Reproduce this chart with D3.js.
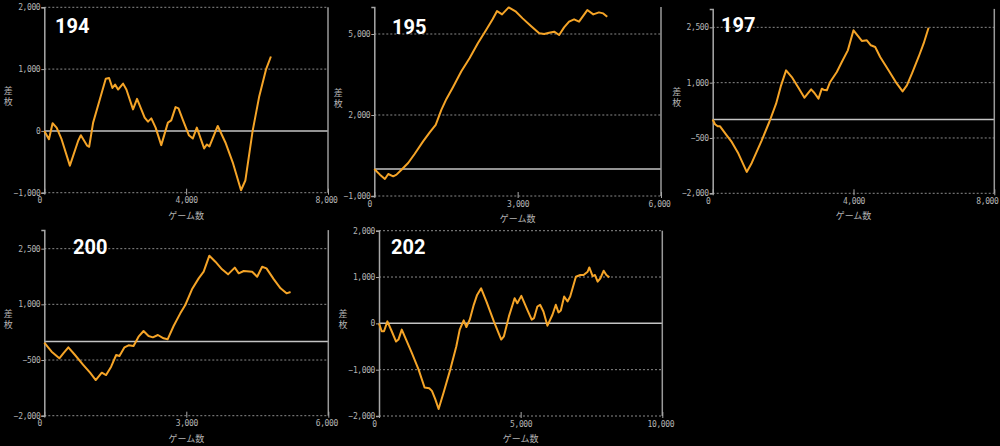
<!DOCTYPE html>
<meta charset="utf-8">
<style>
body{ margin:0; background:#000; }
svg{ display:block; background:#000; }
text{ font-family:"DejaVu Sans Mono", monospace; }
.tick text{ font-size:8px; fill:#b4b4b4; letter-spacing:-0.4px; }
.title{ font-family:Roboto, "DejaVu Sans", sans-serif; font-weight:bold; font-size:20px; fill:#fff; }
.axlabel{ font-family:"Noto Sans CJK JP", sans-serif; font-size:9px; fill:#b4b4b4; }
</style>
<body>
<div id="chart"></div>
<script src="https://cdn.jsdelivr.net/npm/d3@7"></script>
<script>
// 差枚グラフ 5台分

// 194
var games194 = [0,131,234,347,487,721,956,1031,1209,1265,1377,1565,1733,1827,1921,1996,2080,2221,2315,2502,2615,2830,2924,3018,3139,3298,3486,3579,3701,3785,3907,4076,4188,4301,4507,4582,4657,4891,5107,5313,5547,5669,5875,6062,6250,6390];
var diff194 = [0,-134,123,53,-134,-562,-160,-70,-240,-257,134,508,845,856,695,749,669,765,669,348,519,214,150,203,53,-230,134,171,385,364,177,-70,-123,53,-284,-219,-251,80,-187,-508,-960,-803,0,562,990,1204];
// 195
var games195 = [0,118,222,292,396,465,569,708,847,1021,1160,1285,1403,1507,1646,1819,1993,2167,2340,2479,2569,2674,2812,2965,3104,3278,3451,3556,3660,3764,3868,3972,4076,4181,4285,4458,4583,4701,4791,4875];
var diff195 = [0,-209,-369,-185,-271,-209,-25,222,566,1022,1355,1638,2192,2586,3029,3608,4101,4655,5148,5554,5850,5726,5985,5825,5579,5295,5024,5000,5049,5086,4963,5246,5456,5542,5456,5887,5726,5800,5763,5640];
// 197
var games197 = [0,66,142,209,398,540,730,967,1109,1393,1611,1801,1943,2085,2247,2436,2607,2796,2891,3005,3100,3147,3242,3337,3526,3668,3839,4000,4237,4379,4493,4616,4758,4995,5232,5394,5517,5659,5849,5991,6133];
var diff197 = [0,-126,-183,-183,-427,-608,-924,-1421,-1177,-563,-60,431,928,1333,1152,863,592,818,719,566,837,810,792,1018,1289,1560,1876,2419,2130,2149,2013,1968,1697,1335,973,765,928,1244,1696,2057,2490];
// 200
var games200 = [0,155,318,402,508,649,826,967,1087,1214,1306,1412,1518,1588,1694,1779,1885,1991,2097,2202,2294,2400,2520,2605,2732,2873,2979,3120,3261,3367,3487,3614,3755,3882,4024,4108,4214,4391,4497,4602,4694,4850,4991,5118,5203];
var diff200 = [-30,-276,-455,-320,-159,-365,-635,-842,-1039,-842,-905,-680,-365,-392,-159,-105,-123,128,281,146,111,174,84,57,416,757,982,1404,1700,1880,2311,2149,1943,1808,1988,1835,1898,1880,1745,2014,1970,1673,1431,1296,1332];
// 202
var games202 = [0,95,177,296,449,603,686,804,957,1158,1395,1608,1773,1868,1986,2104,2281,2518,2730,2849,2990,3085,3203,3345,3463,3605,3794,4054,4314,4409,4586,4787,4882,5024,5236,5390,5473,5591,5686,5804,5946,6123,6241,6336,6418,6536,6655,6749,6950,7104,7222,7364,7423,7541,7624,7718,7813,7931,8026,8132];
var diff202 = [0,-171,-171,43,-171,-393,-350,-136,-350,-636,-993,-1386,-1400,-1457,-1636,-1850,-1493,-993,-493,-136,64,-79,79,400,614,757,471,43,-350,-279,150,543,436,593,293,79,114,364,400,257,-50,186,400,236,279,579,471,579,1007,1043,1043,1114,1207,1021,1043,900,971,1136,1043,993];

var machines = ["194","195","197","200","202"];
var yTicks194 = [-1000,0,1000,2000],     yDomain194 = [-1000,2000], xTicks194 = [0,4000,8000];
var yTicks195 = [-1000,2000,5000],       yDomain195 = [-1000,6000], xTicks195 = [0,3000,6000];
var yTicks197 = [-2000,-500,1000,2500],  yDomain197 = [-2000,3000], xTicks197 = [0,4000,8000];
var yTicks200 = [-2000,-500,1000,2500],  yDomain200 = [-2000,3000], xTicks200 = [0,3000,6000];
var yTicks202 = [-2000,-1000,0,1000,2000], yDomain202 = [-2000,2000], xTicks202 = [0,5000,10000];

// 画面上の配置 (プロット領域の左右上下)
var boxes = {
	"194": {l:44.3, r:328,   t:7.3,   b:192.7, titleX:55,  titleY:33},
	"195": {l:374.3, r:661,  t:7,     b:196,   titleX:392, titleY:33.5},
	"197": {l:712.7, r:994.3, t:8.9,  b:193.3, titleX:721, titleY:32},
	"200": {l:44.3, r:328.3, t:230.1, b:415.7, titleX:73,  titleY:253.5},
	"202": {l:379,  r:662.3, t:230.7, b:416,   titleX:391, titleY:254}
};
var series = {
	"194": {xs:games194, ys:diff194, yt:yTicks194, yd:yDomain194, xt:xTicks194},
	"195": {xs:games195, ys:diff195, yt:yTicks195, yd:yDomain195, xt:xTicks195},
	"197": {xs:games197, ys:diff197, yt:yTicks197, yd:yDomain197, xt:xTicks197},
	"200": {xs:games200, ys:diff200, yt:yTicks200, yd:yDomain200, xt:xTicks200},
	"202": {xs:games202, ys:diff202, yt:yTicks202, yd:yDomain202, xt:xTicks202}
};

var svg = d3.select("#chart").append("svg").attr("width",1000).attr("height",446);
var fmt = d3.format(",");

machines.forEach(function(m){
	var b = boxes[m], s = series[m];
	var x = d3.scaleLinear().domain([0, s.xt[s.xt.length-1]]).range([b.l, b.r]);
	var y = d3.scaleLinear().domain(s.yd).range([b.b, b.t]);
	var g = svg.append("g").attr("class","panel");

	// 点線グリッド
	g.selectAll(".grid").data(s.yt.filter(function(d){return d!==0;})).enter()
		.append("line").attr("class","grid")
		.attr("x1", b.l).attr("x2", b.r)
		.attr("y1", function(d){return y(d);}).attr("y2", function(d){return y(d);})
		.attr("stroke","#8a8a8a").attr("stroke-width",1).attr("stroke-dasharray","2,2");

	// 0ライン
	g.append("line")
		.attr("x1", b.l).attr("x2", b.r).attr("y1", y(0)).attr("y2", y(0))
		.attr("stroke","#c4c4c4").attr("stroke-width",1.5);

	// 右端の線
	g.append("line")
		.attr("x1", b.r).attr("x2", b.r).attr("y1", b.t).attr("y2", b.b)
		.attr("stroke","#9a9a9a").attr("stroke-width",1.5);

	var yaxis = g.append("g").attr("transform","translate("+b.l+",0)")
		.call(d3.axisLeft(y).tickValues(s.yt).tickSize(3).tickPadding(1).tickFormat(fmt));
	yaxis.select(".domain").attr("stroke","#a8a8a8").attr("stroke-width",1.5);
	yaxis.selectAll(".tick line").attr("stroke","#a8a8a8");

	var xaxis = g.append("g").attr("transform","translate(0,"+b.b+")")
		.call(d3.axisBottom(x).tickValues(s.xt).tickSizeInner(-4).tickSizeOuter(0).tickPadding(5).tickFormat(fmt));
	xaxis.select(".domain").remove();
	xaxis.selectAll(".tick line").attr("stroke","#a8a8a8").attr("y2",-4).attr("y1",2);
	xaxis.selectAll(".tick text").attr("dx", function(d,i){ return i===0 ? -5 : (i===s.xt.length-1 ? -2 : 0); })
		.each(function(){
			// 画面端で切れないように
			var bb = this.getBBox(), p = this.parentNode.transform.baseVal.consolidate().matrix.e;
			var over = p + bb.x + bb.width - 999;
			if(over > 0) d3.select(this).attr("dx", -2 - over);
		});

	// 差枚ライン
	var pts = s.xs.map(function(v,i){ return [v, s.ys[i]]; });
	g.append("path").datum(pts)
		.attr("d", d3.line().x(function(d){return x(d[0]);}).y(function(d){return y(d[1]);}))
		.attr("fill","none").attr("stroke","#f5a427").attr("stroke-width",2)
		.attr("stroke-linejoin","round");

	// ラベル
	g.append("text").attr("class","axlabel").attr("text-anchor","middle")
		.attr("x", (b.l+b.r)/2).attr("y", b.b+26).text("ゲーム数");
	g.append("text").attr("class","axlabel").attr("text-anchor","middle")
		.attr("x", b.l-36).attr("y", (b.t+b.b)/2 - 6).text("差");
	g.append("text").attr("class","axlabel").attr("text-anchor","middle")
		.attr("x", b.l-36).attr("y", (b.t+b.b)/2 + 5).text("枚");

	g.append("text").attr("class","title").attr("x", b.titleX).attr("y", b.titleY).text(m);
});
</script>
</body>
